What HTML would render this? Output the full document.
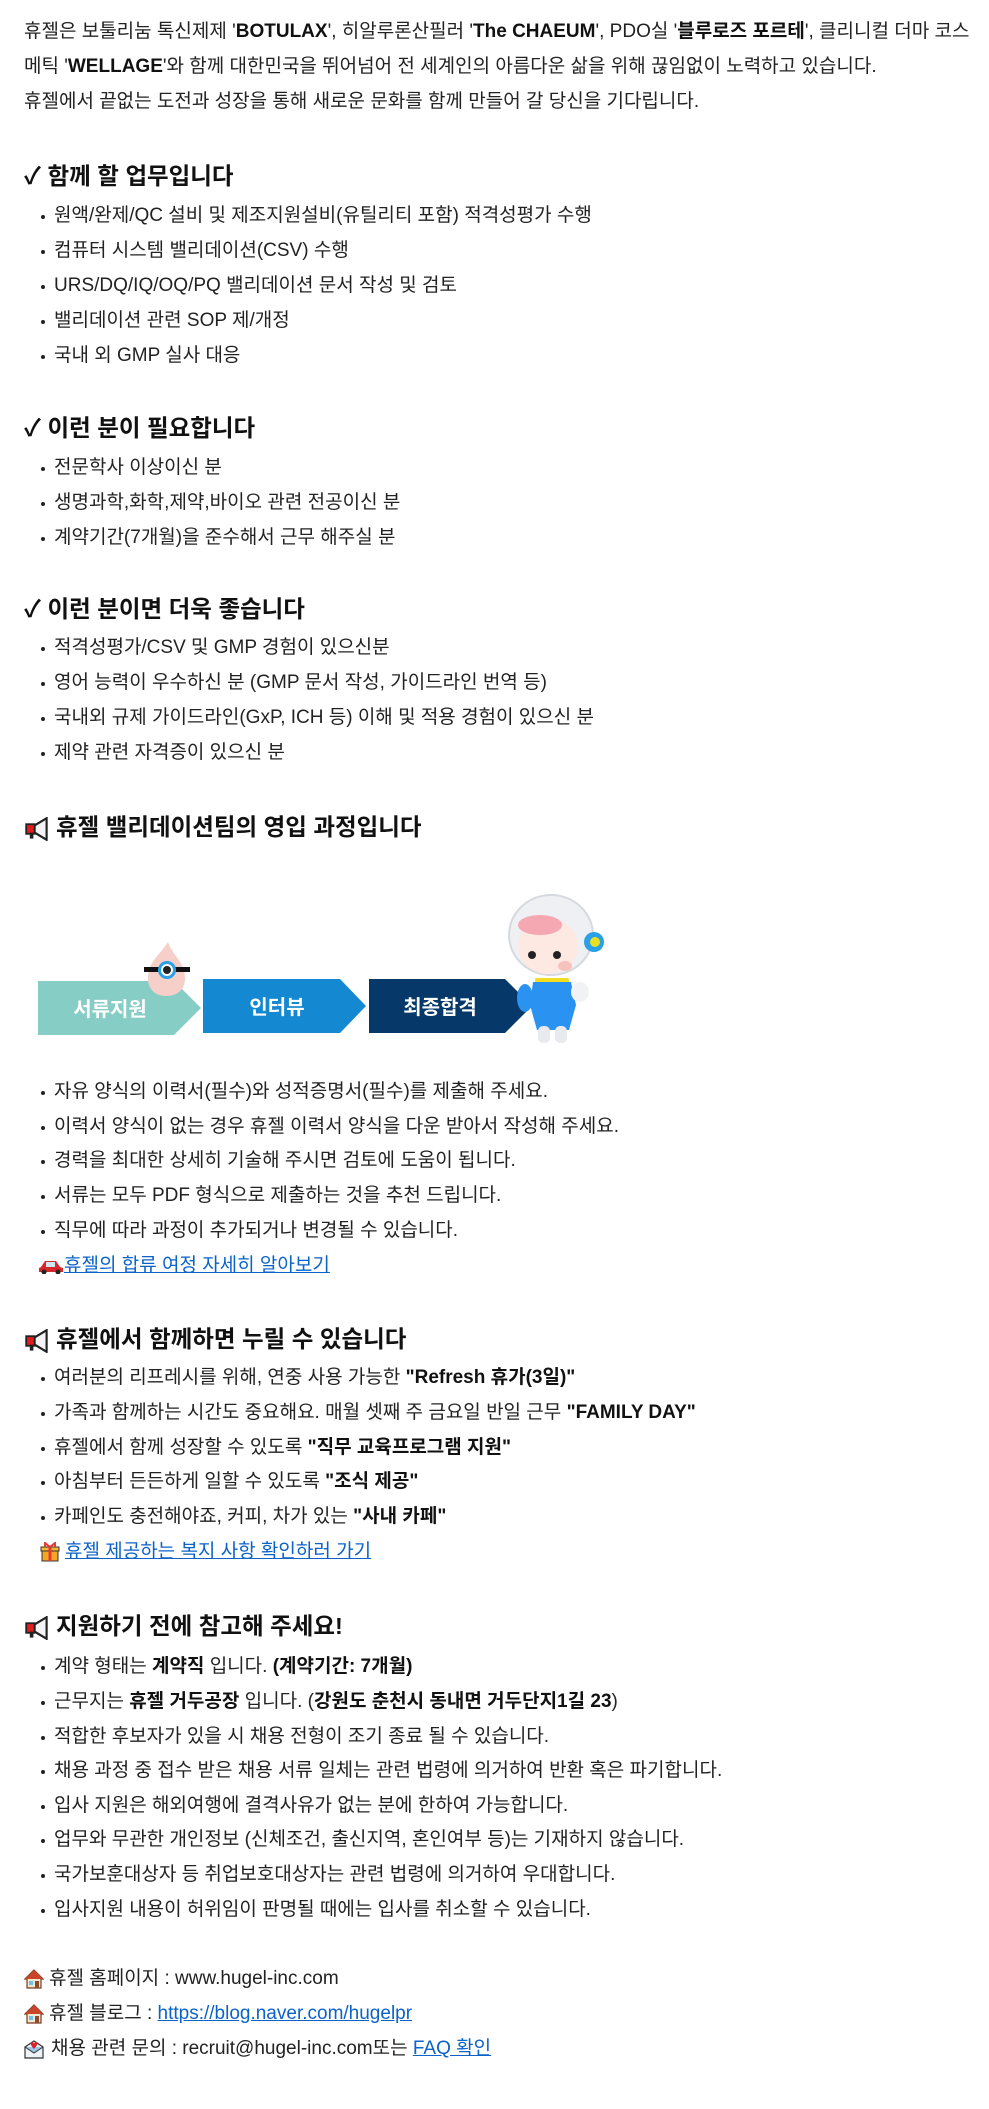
<!DOCTYPE html>
<html><head><meta charset="utf-8">
<style>
body{margin:0;width:989px;height:2109px;background:#fff;position:relative;overflow:hidden;font-family:"Liberation Sans","Noto Sans CJK KR",sans-serif;color:#222;}
.l{position:absolute;left:24px;height:34px;line-height:34px;font-size:19px;white-space:nowrap;}
.b{left:41px;}
.b::before{content:"";position:absolute;left:0;top:16px;width:4px;height:4px;border-radius:2px;background:#222;}
.b span.t{position:absolute;left:13px;}
.h{position:absolute;left:24px;height:34px;line-height:34px;font-size:23.5px;font-weight:bold;white-space:nowrap;color:#111;}
b{font-weight:bold;color:#111;}
a{color:#0b62c9;text-decoration:underline;}
svg{vertical-align:middle;}
</style></head><body>

<div class="l" style="top:15px">휴젤은 보툴리눔 톡신제제 '<b>BOTULAX</b>', 히알루론산필러 '<b>The CHAEUM</b>', PDO실 '<b>블루로즈 포르테</b>', 클리니컬 더마 코스</div>
<div class="l" style="top:50px">메틱 '<b>WELLAGE</b>'와 함께 대한민국을 뛰어넘어 전 세계인의 아름다운 삶을 위해 끊임없이 노력하고 있습니다.</div>
<div class="l" style="top:85px">휴젤에서 끝없는 도전과 성장을 통해 새로운 문화를 함께 만들어 갈 당신을 기다립니다.</div>

<div class="h" style="top:159px">✓ 함께 할 업무입니다</div>
<div class="l b" style="top:199px"><span class="t">원액/완제/QC 설비 및 제조지원설비(유틸리티 포함) 적격성평가 수행</span></div>
<div class="l b" style="top:234px"><span class="t">컴퓨터 시스템 밸리데이션(CSV) 수행</span></div>
<div class="l b" style="top:269px"><span class="t">URS/DQ/IQ/OQ/PQ 밸리데이션 문서 작성 및 검토</span></div>
<div class="l b" style="top:304px"><span class="t">밸리데이션 관련 SOP 제/개정</span></div>
<div class="l b" style="top:339px"><span class="t">국내 외 GMP 실사 대응</span></div>

<div class="h" style="top:411px">✓ 이런 분이 필요합니다</div>
<div class="l b" style="top:451px"><span class="t">전문학사 이상이신 분</span></div>
<div class="l b" style="top:486px"><span class="t">생명과학,화학,제약,바이오 관련 전공이신 분</span></div>
<div class="l b" style="top:521px"><span class="t">계약기간(7개월)을 준수해서 근무 해주실 분</span></div>

<div class="h" style="top:592px">✓ 이런 분이면 더욱 좋습니다</div>
<div class="l b" style="top:631px"><span class="t">적격성평가/CSV 및 GMP 경험이 있으신분</span></div>
<div class="l b" style="top:666px"><span class="t">영어 능력이 우수하신 분 (GMP 문서 작성, 가이드라인 번역 등)</span></div>
<div class="l b" style="top:701px"><span class="t">국내외 규제 가이드라인(GxP, ICH 등) 이해 및 적용 경험이 있으신 분</span></div>
<div class="l b" style="top:736px"><span class="t">제약 관련 자격증이 있으신 분</span></div>

<svg width="0" height="0" style="position:absolute"><defs>
<g id="mega"><polygon points="8,7 18,1 18,19 8,13" fill="#f4f4f4" stroke="#222" stroke-width="1.8"/><rect x="1" y="6" width="7" height="8" fill="#e01e1e" stroke="#222" stroke-width="1.5"/><rect x="4" y="13" width="3" height="5" fill="#222"/></g>
</defs></svg>

<div class="h" style="top:810px"><svg width="26" height="24" viewBox="0 0 20 20" style="margin-right:6px"><use href="#mega"/></svg>휴젤 밸리데이션팀의 영입 과정입니다</div>

<svg style="position:absolute;left:0;top:890px" width="620" height="160" viewBox="0 890 620 160">
<polygon points="38,981 174,981 201,1008 174,1035 38,1035" fill="#86cdc5"/>
<polygon points="203,979 340,979 366,1006 340,1033 203,1033" fill="#1488d0"/>
<polygon points="369,979 505,979 532,1006 505,1033 369,1033" fill="#06386a"/>
<text x="110" y="1016" fill="#fff" font-size="20" font-weight="bold" text-anchor="middle" font-family="Noto Sans CJK KR, sans-serif">서류지원</text>
<text x="277" y="1014" fill="#fff" font-size="20" font-weight="bold" text-anchor="middle" font-family="Noto Sans CJK KR, sans-serif">인터뷰</text>
<text x="440" y="1014" fill="#fff" font-size="20" font-weight="bold" text-anchor="middle" font-family="Noto Sans CJK KR, sans-serif">최종합격</text>
<path d="M168,942 C160,955 148,962 148,978 C148,990 156,996 166,996 C177,996 185,990 185,978 C185,962 172,955 168,942Z" fill="#f6cfc8"/>
<rect x="144" y="967" width="46" height="5" fill="#111"/>
<circle cx="167" cy="970" r="9" fill="#2aa0e8"/><circle cx="167" cy="970" r="6" fill="#fff"/><circle cx="167" cy="970" r="4" fill="#222"/>
<ellipse cx="551" cy="935" rx="42" ry="40" fill="#eef0f3" stroke="#d6d9de" stroke-width="2"/>
<circle cx="594" cy="942" r="10" fill="#2aa0e8"/><circle cx="595" cy="942" r="5" fill="#e8e020"/>
<ellipse cx="548" cy="946" rx="30" ry="28" fill="#fde9e2"/>
<ellipse cx="540" cy="925" rx="22" ry="10" fill="#f5a8b2"/>
<circle cx="532" cy="955" r="4" fill="#222"/><circle cx="557" cy="955" r="4" fill="#222"/>
<ellipse cx="565" cy="966" rx="7" ry="5" fill="#f8c2bc"/>
<rect x="535" y="978" width="34" height="5" rx="2" fill="#f2de1e"/>
<path d="M533,982 L571,982 L576,1005 L569,1030 L537,1030 L530,1005Z" fill="#2a92f0"/>
<ellipse cx="525" cy="998" rx="8" ry="14" fill="#2a92f0"/>
<ellipse cx="580" cy="992" rx="9" ry="10" fill="#f1f2f5"/>
<rect x="538" y="1026" width="12" height="17" rx="5" fill="#e8eaee"/><rect x="555" y="1026" width="12" height="17" rx="5" fill="#e8eaee"/>
</svg>

<div class="l b" style="top:1075px"><span class="t">자유 양식의 이력서(필수)와 성적증명서(필수)를 제출해 주세요.</span></div>
<div class="l b" style="top:1110px"><span class="t">이력서 양식이 없는 경우 휴젤 이력서 양식을 다운 받아서 작성해 주세요.</span></div>
<div class="l b" style="top:1144px"><span class="t">경력을 최대한 상세히 기술해 주시면 검토에 도움이 됩니다.</span></div>
<div class="l b" style="top:1179px"><span class="t">서류는 모두 PDF 형식으로 제출하는 것을 추천 드립니다.</span></div>
<div class="l b" style="top:1214px"><span class="t">직무에 따라 과정이 추가되거나 변경될 수 있습니다.</span></div>
<div class="l" style="top:1249px;left:38px"><svg width="26" height="16" viewBox="0 0 26 16"><path d="M3,9 L7,3 L18,3 L22,9 L25,10 L25,14 L1,14 L1,10Z" fill="#d6272a"/><rect x="8" y="4" width="9" height="5" fill="#cfe7f5"/><circle cx="6" cy="14" r="2.5" fill="#222"/><circle cx="20" cy="14" r="2.5" fill="#222"/></svg><a>휴젤의 합류 여정 자세히 알아보기</a></div>

<div class="h" style="top:1322px"><svg width="26" height="24" viewBox="0 0 20 20" style="margin-right:6px"><use href="#mega"/></svg>휴젤에서 함께하면 누릴 수 있습니다</div>
<div class="l b" style="top:1361px"><span class="t">여러분의 리프레시를 위해, 연중 사용 가능한 <b>"Refresh 휴가(3일)"</b></span></div>
<div class="l b" style="top:1396px"><span class="t">가족과 함께하는 시간도 중요해요. 매월 셋째 주 금요일 반일 근무 <b>"FAMILY DAY"</b></span></div>
<div class="l b" style="top:1431px"><span class="t">휴젤에서 함께 성장할 수 있도록 <b>"직무 교육프로그램 지원"</b></span></div>
<div class="l b" style="top:1465px"><span class="t">아침부터 든든하게 일할 수 있도록 <b>"조식 제공"</b></span></div>
<div class="l b" style="top:1500px"><span class="t">카페인도 충전해야죠, 커피, 차가 있는 <b>"사내 카페"</b></span></div>
<div class="l" style="top:1535px;left:40px"><svg width="20" height="20" viewBox="0 0 20 20" style="margin-right:5px"><rect x="2" y="7" width="16" height="12" fill="#f5a623" stroke="#333" stroke-width="1"/><rect x="1" y="5" width="18" height="4" fill="#f7b733" stroke="#333" stroke-width="1"/><rect x="8.5" y="5" width="3" height="14" fill="#e53935"/><path d="M10,5 L5,1 L5,5 M10,5 L15,1 L15,5" stroke="#e53935" stroke-width="2" fill="none"/></svg><a>휴젤 제공하는 복지 사항 확인하러 가기</a></div>

<div class="h" style="top:1609px"><svg width="26" height="24" viewBox="0 0 20 20" style="margin-right:6px"><use href="#mega"/></svg>지원하기 전에 참고해 주세요!</div>
<div class="l b" style="top:1650px"><span class="t">계약 형태는 <b>계약직</b> 입니다. <b>(계약기간: 7개월)</b></span></div>
<div class="l b" style="top:1685px"><span class="t">근무지는 <b>휴젤 거두공장</b> 입니다. (<b>강원도 춘천시 동내면 거두단지1길 23</b>)</span></div>
<div class="l b" style="top:1720px"><span class="t">적합한 후보자가 있을 시 채용 전형이 조기 종료 될 수 있습니다.</span></div>
<div class="l b" style="top:1754px"><span class="t">채용 과정 중 접수 받은 채용 서류 일체는 관련 법령에 의거하여 반환 혹은 파기합니다.</span></div>
<div class="l b" style="top:1789px"><span class="t">입사 지원은 해외여행에 결격사유가 없는 분에 한하여 가능합니다.</span></div>
<div class="l b" style="top:1823px"><span class="t">업무와 무관한 개인정보 (신체조건, 출신지역, 혼인여부 등)는 기재하지 않습니다.</span></div>
<div class="l b" style="top:1858px"><span class="t">국가보훈대상자 등 취업보호대상자는 관련 법령에 의거하여 우대합니다.</span></div>
<div class="l b" style="top:1893px"><span class="t">입사지원 내용이 허위임이 판명될 때에는 입사를 취소할 수 있습니다.</span></div>

<div class="l" style="top:1962px"><svg width="20" height="20" viewBox="0 0 20 20" style="margin-right:5px"><polygon points="10,1 19,10 17,10 17,19 3,19 3,10 1,10" fill="#f3e6d0" stroke="#7a3a1a" stroke-width="1.2"/><polygon points="10,1 19,10 1,10" fill="#c8452c"/><rect x="5" y="12" width="4" height="4" fill="#6cc3e8"/><rect x="11" y="12" width="4" height="7" fill="#8b4a2b"/></svg>휴젤 홈페이지 : www.hugel-inc.com</div>
<div class="l" style="top:1997px"><svg width="20" height="20" viewBox="0 0 20 20" style="margin-right:5px"><polygon points="10,1 19,10 17,10 17,19 3,19 3,10 1,10" fill="#f3e6d0" stroke="#7a3a1a" stroke-width="1.2"/><polygon points="10,1 19,10 1,10" fill="#c8452c"/><rect x="5" y="12" width="4" height="4" fill="#6cc3e8"/><rect x="11" y="12" width="4" height="7" fill="#8b4a2b"/></svg>휴젤 블로그 : <a>https://blog.naver.com/hugelpr</a></div>
<div class="l" style="top:2032px"><svg width="20" height="20" viewBox="0 0 20 20" style="margin-right:7px"><polygon points="1,8 10,2 19,8 19,19 1,19" fill="#eef3f8" stroke="#333" stroke-width="1.2"/><path d="M1,8 L10,14 L19,8" stroke="#333" fill="#9cc7ea" stroke-width="1"/><path d="M10,10 C6,6 6,3 8,3 C9,3 10,4 10,5 C10,4 11,3 12,3 C14,3 14,6 10,10Z" fill="#e0202a"/></svg>채용 관련 문의 : recruit@hugel-inc.com또는 <a>FAQ 확인</a></div>

</body></html>
